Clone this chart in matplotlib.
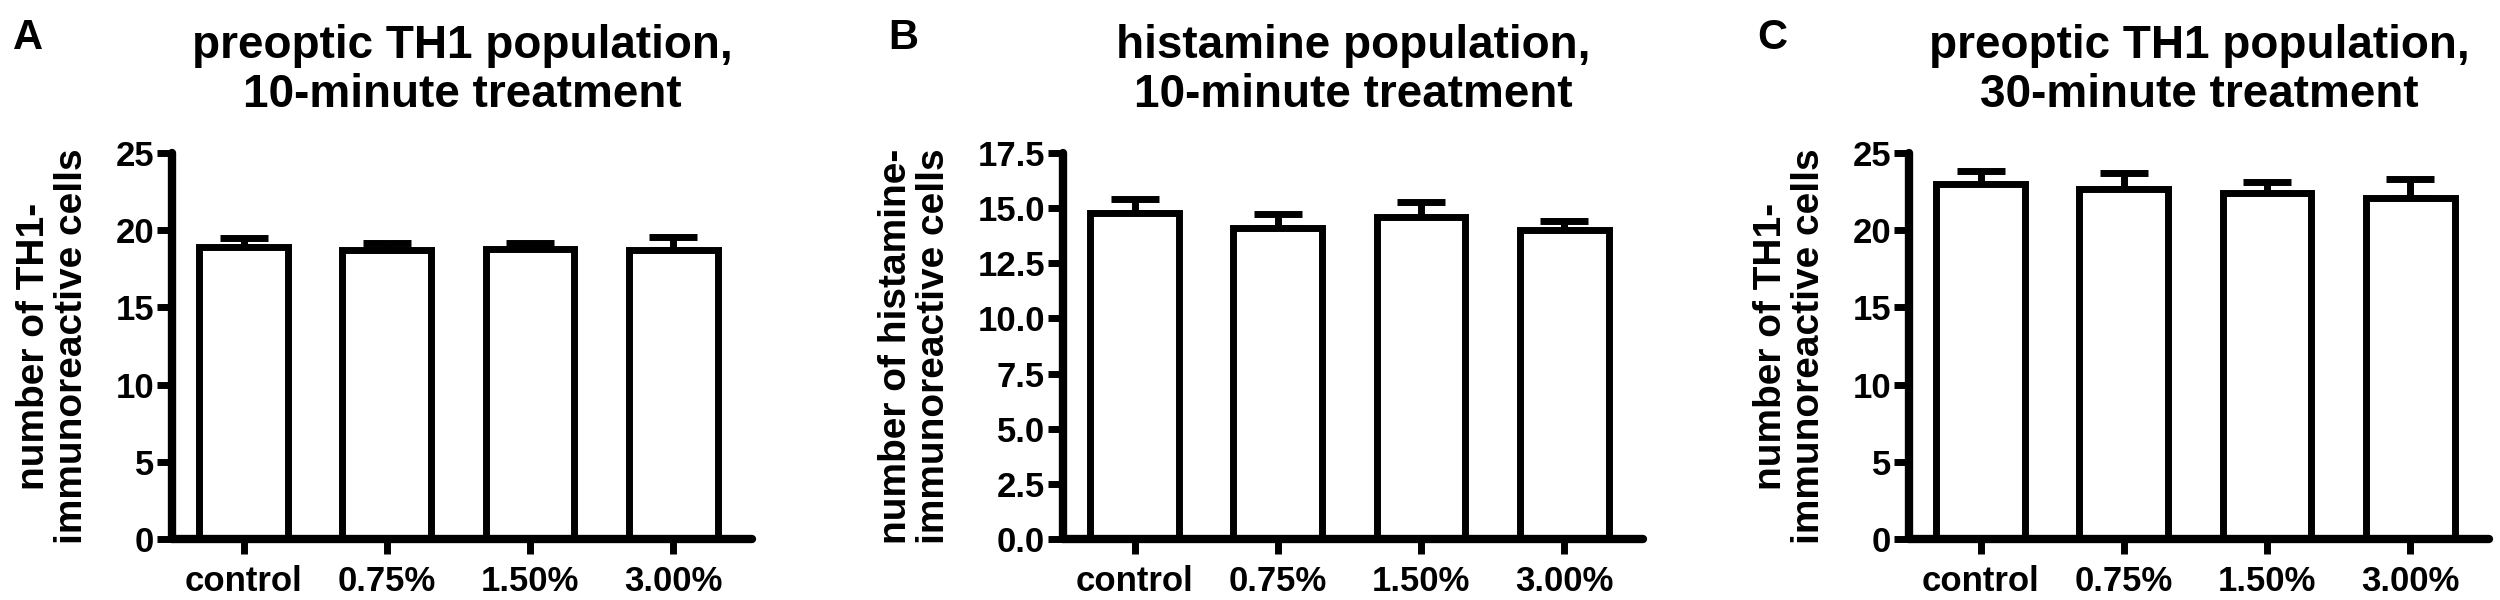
import numpy as np
import matplotlib
matplotlib.use('Agg')
import matplotlib.pyplot as plt

plt.rcParams['font.family'] = ['Liberation Sans', 'DejaVu Sans']
plt.rcParams['font.weight'] = 'bold'

# data (mean, upper SEM)
groups = ['control', '0.75%', '1.50%', '3.00%']

th1_10_mean = [18.9, 18.7, 18.8, 18.7]
th1_10_err = [0.6, 0.45, 0.4, 0.85]

hist_10_mean = [14.8, 14.1, 14.6, 14.0]
hist_10_err = [0.6, 0.65, 0.7, 0.4]

th1_30_mean = [23.0, 22.7, 22.4, 22.1]
th1_30_err = [0.85, 1.0, 0.7, 1.2]

panels = [
    ('A', 'preoptic TH1 population,\n10-minute treatment',
     'number of TH1-\nimmunoreactive cells', th1_10_mean, th1_10_err,
     25, [0, 5, 10, 15, 20, 25], '%d'),
    ('B', 'histamine population,\n10-minute treatment',
     'number of histamine-\nimmunoreactive cells', hist_10_mean, hist_10_err,
     17.5, [0, 2.5, 5, 7.5, 10, 12.5, 15, 17.5], '%.1f'),
    ('C', 'preoptic TH1 population,\n30-minute treatment',
     'number of TH1-\nimmunoreactive cells', th1_30_mean, th1_30_err,
     25, [0, 5, 10, 15, 20, 25], '%d'),
]

# axes positions in pixels (left, right) of a 2500x600 canvas
lefts = [172, 1063, 1909]
width = 580
bottom = 1 - 539 / 600.
top = 1 - 153 / 600.

fig = plt.figure(figsize=(25, 6), dpi=100)

for i, (letter, title, ylab, mean, err, ymax, yt, fmt) in enumerate(panels):
    ax = fig.add_axes([lefts[i] / 2500., bottom, width / 2500., top - bottom])
    x = np.arange(len(groups))
    ax.bar(x, mean, width=0.62, color='white', edgecolor='black',
           linewidth=5, zorder=2, joinstyle='miter')
    ax.errorbar(x, mean, yerr=[np.zeros(len(err)), err], fmt='none',
                ecolor='black', elinewidth=5, capsize=17, capthick=5, zorder=1)
    ax.set_xlim(-0.5, 3.55)
    ax.set_ylim(0, ymax)
    ax.set_yticks(yt)
    ax.set_yticklabels([fmt % v for v in yt])
    ax.set_xticks(x)
    ax.set_xticklabels(groups)
    for s in ['top', 'right']:
        ax.spines[s].set_visible(False)
    for s in ['left', 'bottom']:
        ax.spines[s].set_linewidth(6)
        ax.spines[s].set_capstyle('round')
    ax.tick_params(axis='both', width=5, length=11, labelsize=25, direction='out')
    ax.tick_params(axis='x', pad=8)
    ax.tick_params(axis='y', pad=2)
    ax.set_ylabel(ylab, fontsize=28, fontweight='bold', labelpad=18, linespacing=1.1)
    ax.set_title(title, fontsize=33, fontweight='bold', pad=33, linespacing=1.15)
    fig.text((13 + [0, 875, 1744][i]) / 2500., 1 - 18 / 600., letter,
             fontsize=30, fontweight='bold', va='top', ha='left')

fig.savefig('out.png', dpi=100)
